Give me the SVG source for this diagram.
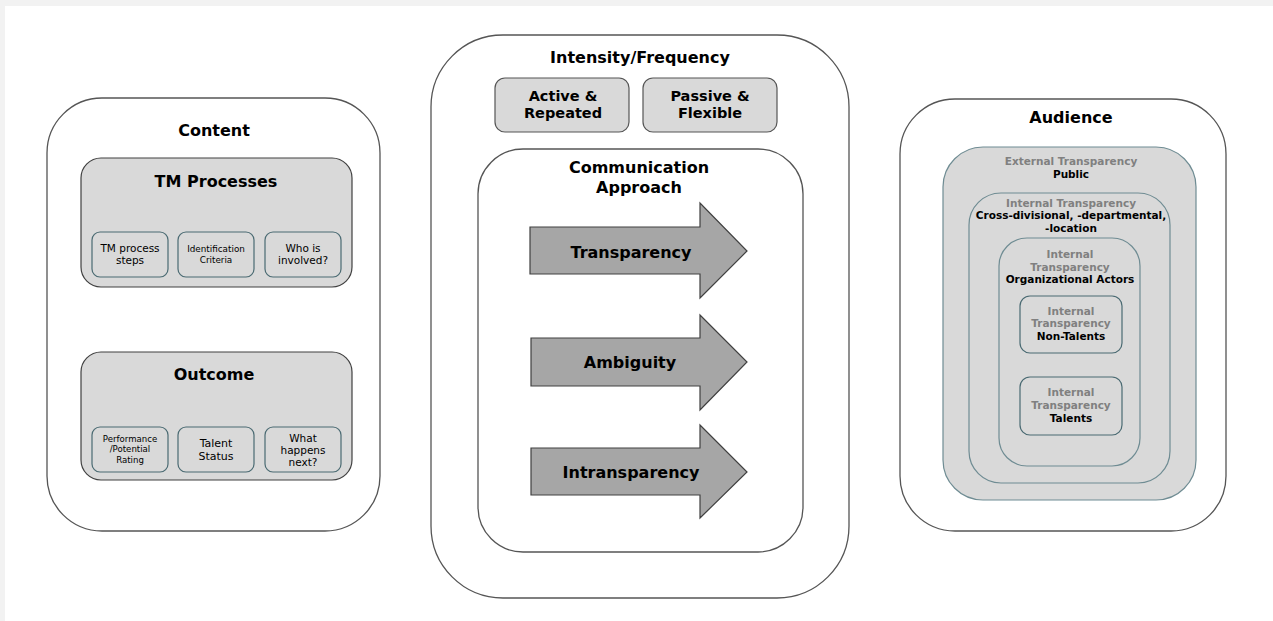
<svg xmlns="http://www.w3.org/2000/svg" width="1273" height="621" viewBox="0 0 1273 621">
<style>
text{font-family:"DejaVu Sans","Verdana",sans-serif;text-anchor:middle;fill:#000}
.b{font-weight:bold}
.t16{font-size:16px;font-weight:bold}
.outer{fill:#fff;stroke:#555;stroke-width:1.3}
.grp{fill:#d9d9d9;stroke:#404040;stroke-width:1.2}
.sm{fill:#d9d9d9;stroke:#4a6a72;stroke-width:1.2}
.btn{fill:#d9d9d9;stroke:#555;stroke-width:1.2}
.arrow{fill:#a6a6a6;stroke:#404040;stroke-width:1.2}
.lay{fill:#d9d9d9;stroke:#6f8c93;stroke-width:1.2}
.g{fill:#808080;font-weight:bold;font-size:10.5px}
.k{font-weight:bold;font-size:10.5px}
</style>
<rect x="0" y="0" width="1273" height="621" fill="#f2f2f2"/>
<rect x="5" y="6" width="1268" height="615" fill="#fff"/>

<g id="content">
<rect class="outer" x="47" y="98" width="333" height="433" rx="55"/>
<text class="t16" x="214" y="136">Content</text>
<g id="tm-processes">
<rect class="grp" x="81" y="158" width="271" height="129" rx="20"/>
<text class="t16" x="216" y="187">TM Processes</text>
<g id="tm-steps"><rect class="sm" x="92" y="232" width="76" height="45" rx="8"/>
<text x="130" y="252" font-size="10.5">TM process</text><text x="130" y="264" font-size="10.5">steps</text></g>
<g id="ident"><rect class="sm" x="178" y="232" width="76" height="45" rx="8"/>
<text x="216" y="252" font-size="8.8">Identification</text><text x="216" y="263" font-size="8.8">Criteria</text></g>
<g id="who"><rect class="sm" x="265" y="232" width="76" height="45" rx="8"/>
<text x="303" y="252" font-size="10.5">Who is</text><text x="303" y="264" font-size="10.5">involved?</text></g>
</g>
<g id="outcome">
<rect class="grp" x="81" y="352" width="271" height="128" rx="20"/>
<text class="t16" x="214" y="380">Outcome</text>
<g id="perf"><rect class="sm" x="92" y="427" width="76" height="45" rx="8"/>
<text x="130" y="442" font-size="8.6">Performance</text><text x="130" y="452" font-size="8.6">/Potential</text><text x="130" y="463" font-size="8.6">Rating</text></g>
<g id="status"><rect class="sm" x="178" y="427" width="76" height="45" rx="8"/>
<text x="216" y="447" font-size="11">Talent</text><text x="216" y="460" font-size="11">Status</text></g>
<g id="next"><rect class="sm" x="265" y="427" width="76" height="45" rx="8"/>
<text x="303" y="442" font-size="10.5">What</text><text x="303" y="454" font-size="10.5">happens</text><text x="303" y="466" font-size="10.5">next?</text></g>
</g>
</g>

<g id="intensity">
<rect class="outer" x="431" y="35" width="418" height="563" rx="72"/>
<text class="t16" x="640" y="63">Intensity/Frequency</text>
<g id="active"><rect class="btn" x="495" y="78" width="134" height="54" rx="10"/>
<text class="b" font-size="14.5" x="563" y="101">Active &amp;</text><text class="b" font-size="14.5" x="563" y="118">Repeated</text></g>
<g id="passive"><rect class="btn" x="643" y="78" width="134" height="54" rx="10"/>
<text class="b" font-size="14.5" x="710" y="101">Passive &amp;</text><text class="b" font-size="14.5" x="710" y="118">Flexible</text></g>
<g id="approach">
<rect class="outer" x="478" y="149" width="325" height="403" rx="45"/>
<text class="t16" x="639" y="173">Communication</text>
<text class="t16" x="639" y="193">Approach</text>
<g id="transparency"><polygon class="arrow" points="530,227 700,227 700,203 747,251 700,298 700,274 530,274"/>
<text class="t16" x="631" y="258">Transparency</text></g>
<g id="ambiguity"><polygon class="arrow" points="531,338 700,338 700,315 747,362 700,410 700,386 531,386"/>
<text class="t16" x="630" y="368">Ambiguity</text></g>
<g id="intransparency"><polygon class="arrow" points="531,448 700,448 700,425 747,472 700,518 700,495 531,495"/>
<text class="t16" x="631" y="478">Intransparency</text></g>
</g>
</g>

<g id="audience">
<rect class="outer" x="900" y="99" width="326" height="432" rx="55"/>
<text class="t16" x="1071" y="123">Audience</text>
<g id="external"><rect class="lay" x="943" y="147" width="253" height="353" rx="40" stroke="#7e9aa0"/>
<text class="g" x="1071" y="165">External Transparency</text><text class="k" x="1071" y="178">Public</text></g>
<g id="cross"><rect class="lay" x="969" y="193" width="201" height="290" rx="32"/>
<text class="g" x="1071" y="207">Internal Transparency</text><text class="k" x="1071" y="219">Cross-divisional, -departmental,</text><text class="k" x="1071" y="232">-location</text></g>
<g id="actors"><rect class="lay" x="999" y="238" width="141" height="228" rx="28"/>
<text class="g" x="1070" y="258">Internal</text><text class="g" x="1070" y="271">Transparency</text><text class="k" x="1070" y="283">Organizational Actors</text></g>
<g id="nontalents"><rect class="sm" x="1020" y="296" width="102" height="57" rx="10"/>
<text class="g" x="1071" y="315">Internal</text><text class="g" x="1071" y="327">Transparency</text><text class="k" x="1071" y="340">Non-Talents</text></g>
<g id="talents"><rect class="sm" x="1020" y="377" width="102" height="58" rx="10"/>
<text class="g" x="1071" y="396">Internal</text><text class="g" x="1071" y="409">Transparency</text><text class="k" x="1071" y="422">Talents</text></g>
</g>
<g id="connectors"/>
</svg>
